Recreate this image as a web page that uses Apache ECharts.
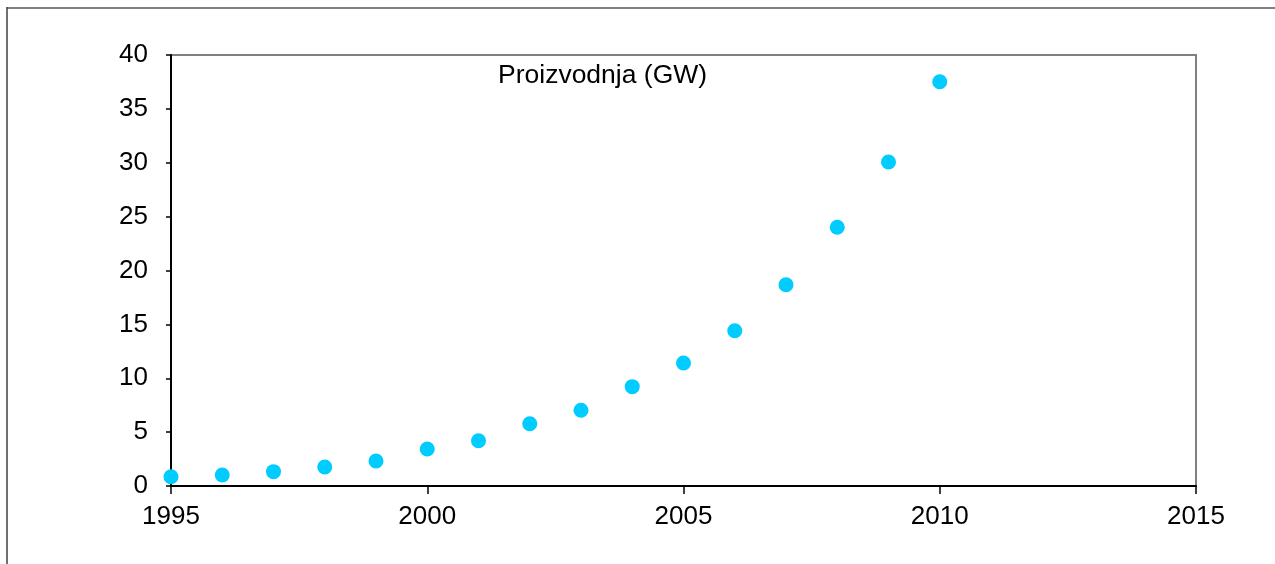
<!DOCTYPE html>
<html>
<head>
<meta charset="utf-8">
<script src="https://cdn.jsdelivr.net/npm/echarts@6/dist/echarts.min.js"></script>
<style>
  html, body { margin: 0; padding: 0; background: #fff; }
  #chart { width: 1275px; height: 564px; }
</style>
</head>
<body>
<div id="chart"></div>
<script>
// Annual production, gigawatts
const years = [1995, 1996, 1997, 1998, 1999, 2000, 2001, 2002, 2003, 2004, 2005, 2006, 2007, 2008, 2009, 2010];
const production = [0.86, 1.02, 1.33, 1.76, 2.32, 3.43, 4.2, 5.78, 7.03, 9.22, 11.41, 14.41, 18.68, 24.01, 30.07, 37.52];
const seriesName = 'Proizvodnja (GW)';

const chart = echarts.init(document.getElementById('chart'), null, { renderer: 'canvas' });
const font = '"Liberation Sans", Arial, sans-serif';

chart.setOption({
  animation: false,
  backgroundColor: '#ffffff',
  title: {
    text: seriesName,
    left: 493,
    top: 57,
    textStyle: { fontFamily: font, fontSize: 26.5, fontWeight: 'normal', color: '#000' }
  },
  grid: {
    left: 171, right: 79, top: 55, bottom: 78,
    show: true, borderColor: '#808080', borderWidth: 2, backgroundColor: '#fff'
  },
  graphic: [
    { type: 'line', shape: { x1: 7, y1: 8, x2: 1275, y2: 8 }, style: { stroke: '#808080', lineWidth: 2 } },
    { type: 'line', shape: { x1: 7, y1: 7, x2: 7, y2: 564 }, style: { stroke: '#404040', lineWidth: 1.5 } }
  ],
  xAxis: {
    type: 'value',
    min: 1995, max: 2015, interval: 5,
    axisLine: { show: true, onZero: false, lineStyle: { color: '#000', width: 2 } },
    axisTick: { show: true, inside: false, length: 8, lineStyle: { color: '#000', width: 1.5 } },
    axisLabel: { margin: 18, fontFamily: font, fontSize: 26, color: '#000', formatter: v => String(v) },
    splitLine: { show: false }
  },
  yAxis: {
    type: 'value',
    min: 0, max: 40, interval: 5,
    axisLine: { show: true, onZero: false, lineStyle: { color: '#000', width: 2 } },
    axisTick: { show: true, inside: false, length: 5, lineStyle: { color: '#000', width: 1.5 } },
    axisLabel: { margin: 23, fontFamily: font, fontSize: 26, color: '#000' },
    splitLine: { show: false }
  },
  series: [{
    name: seriesName,
    type: 'scatter',
    symbol: 'circle',
    symbolSize: 15,
    itemStyle: { color: '#00CCFF', opacity: 1 },
    clip: false,
    data: years.map((y, i) => [y, production[i]])
  }]
});
</script>
</body>
</html>
